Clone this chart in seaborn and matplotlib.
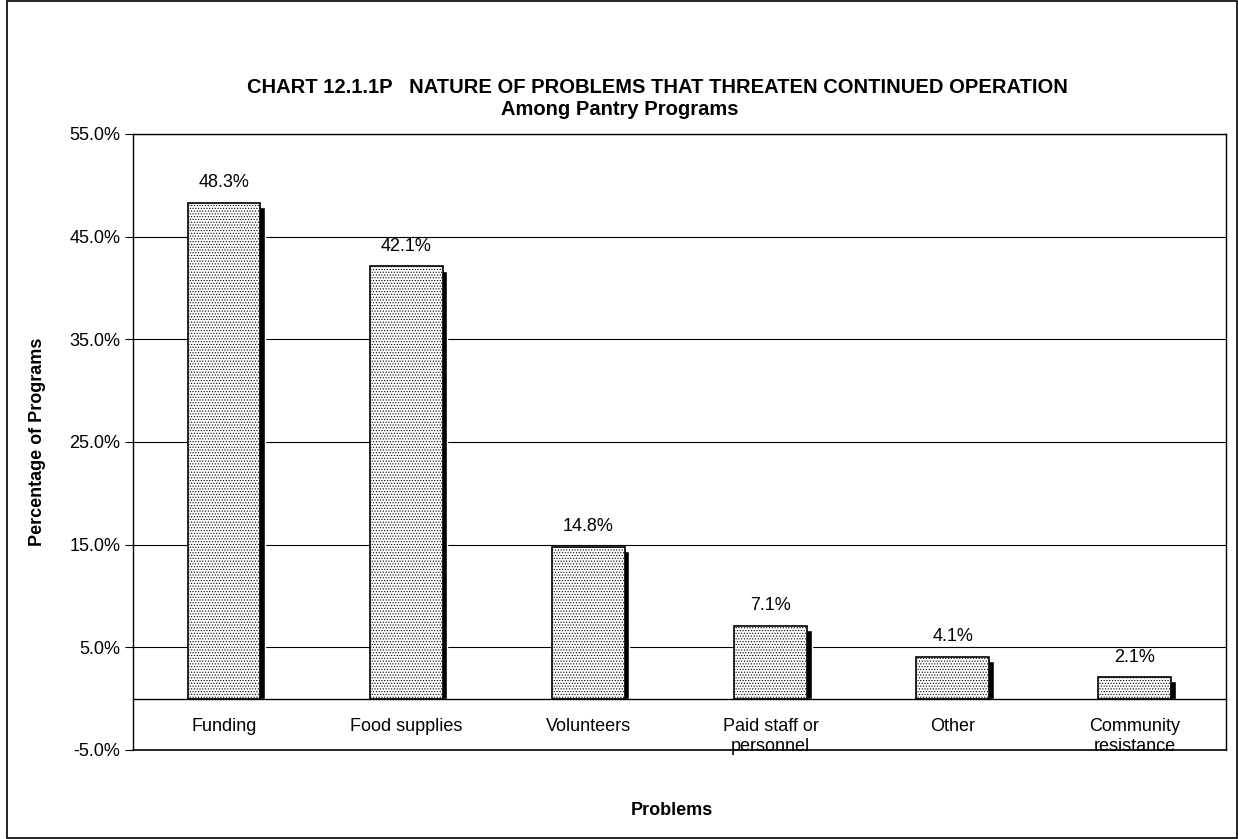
import seaborn as sns
import pandas as pd
import matplotlib.pyplot as plt
from matplotlib.patches import Rectangle
from matplotlib.ticker import FuncFormatter

problems = ['Funding', 'Food supplies', 'Volunteers', 'Paid staff or\npersonnel',
            'Other', 'Community\nresistance']
percent = [48.3, 42.1, 14.8, 7.1, 4.1, 2.1]
y_ticks = [-5, 5, 15, 25, 35, 45, 55]

df = pd.DataFrame({'problem': problems, 'percent': percent})

sns.set_theme(style='white')
plt.rcParams['font.family'] = ['Liberation Sans', 'DejaVu Sans']
plt.rcParams['text.color'] = 'black'
plt.rcParams['axes.labelcolor'] = 'black'
plt.rcParams['hatch.color'] = '#b4b4b4'
plt.rcParams['hatch.linewidth'] = 0.5

fig = plt.figure(figsize=(12.38, 8.39), dpi=100, facecolor='white')
ax = fig.add_axes([0.1074, 0.1061, 0.8829, 0.7342])

# drop shadow behind the bars
ax.bar([i + 0.025 for i in range(len(df))], [v - 0.4 for v in df['percent']],
       width=0.4, color='black', zorder=2)
sns.barplot(data=df, x='problem', y='percent', ax=ax, width=0.4, color='white',
            edgecolor='black', linewidth=1.2, hatch='......', saturation=1, zorder=3)

for i, v in enumerate(df['percent']):
    ax.text(i, v + 1.1, f'{v:.1f}%', ha='center', va='bottom', fontsize=13, color='black')

ax.set_ylim(-5, 55)
ax.set_xlim(-0.5, len(df) - 0.5)
ax.set_yticks(y_ticks)
ax.yaxis.set_major_formatter(FuncFormatter(lambda v, p: f'{v:.1f}%'))
ax.grid(axis='y', color='black', linewidth=0.8, zorder=0)
ax.set_axisbelow(True)
ax.axhline(-5, color='black', linewidth=1.2, clip_on=False, zorder=5)

for s in ['left', 'right', 'top']:
    ax.spines[s].set_color('black')
    ax.spines[s].set_linewidth(1.0)
ax.spines['bottom'].set_position(('data', 0))
ax.spines['bottom'].set_color('black')
ax.spines['bottom'].set_linewidth(1.0)
ax.spines['bottom'].set_zorder(4)

ax.set_xticks(range(len(df)))
ax.set_xticks([i - 0.5 for i in range(len(df) + 1)], minor=True)
ax.tick_params(axis='x', which='major', length=0, pad=14, labelsize=13, colors='black')
ax.tick_params(axis='x', which='minor', length=5, width=0.8, direction='out', color='black')
ax.tick_params(axis='y', length=6, width=0.8, direction='out', labelsize=13,
               colors='black', left=True, pad=3)
for lab in ax.get_xticklabels():
    lab.set_linespacing(1.25)

ax.set_xlabel('Problems', fontsize=13, fontweight='bold')
ax.xaxis.set_label_coords(0.493, -0.085)
ax.set_ylabel('Percentage of Programs', fontsize=13, fontweight='bold')
ax.yaxis.set_label_coords(-0.08, 0.5)

fig.text(0.531, 0.896, 'CHART 12.1.1P   NATURE OF PROBLEMS THAT THREATEN CONTINUED OPERATION',
         ha='center', va='center', fontsize=14.5, fontweight='bold')
fig.text(0.501, 0.870, 'Among Pantry Programs', ha='center', va='center',
         fontsize=14.5, fontweight='bold')

fig.patches.append(Rectangle((0.0057, 0.0008), 0.9935, 0.998, transform=fig.transFigure,
                             fill=False, edgecolor='black', linewidth=1.2))

plt.savefig('out.png', dpi=100)
